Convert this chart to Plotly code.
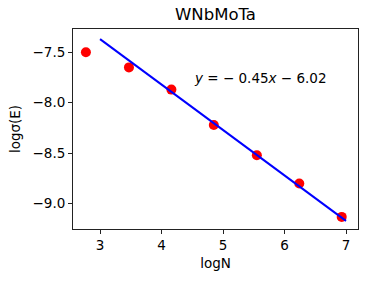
import plotly.graph_objects as go

log_n = [2.77, 3.47, 4.16, 4.85, 5.55, 6.24, 6.93]
log_sigma = [-7.50, -7.65, -7.87, -8.22, -8.52, -8.80, -9.13]
slope = -0.45
intercept = -6.02
fit_x = [3.0, 7.0]
fit_y = [slope * v + intercept for v in fit_x]

x_ticks = [3, 4, 5, 6, 7]
x_tick_labels = ["3", "4", "5", "6", "7"]
y_ticks = [-9.0, -8.5, -8.0, -7.5]
y_tick_labels = ["\u22129.0", "\u22128.5", "\u22128.0", "\u22127.5"]

font = "DejaVu Sans"

fig = go.Figure()
fig.add_trace(go.Scatter(x=log_n, y=log_sigma, mode="markers",
                         marker=dict(color="red", size=10, line=dict(width=0)),
                         showlegend=False))
fig.add_trace(go.Scatter(x=fit_x, y=fit_y, mode="lines",
                         line=dict(color="blue", width=2), showlegend=False))

fig.add_annotation(x=4.5, y=-7.76, xref="x", yref="y",
                   text="<i>y</i> = \u2212 0.45<i>x</i> \u2212 6.02",
                   showarrow=False, xanchor="left", yanchor="middle",
                   font=dict(family=font, size=13.5, color="black"))

axis_common = dict(showgrid=False, zeroline=False, showline=True, linecolor="#222",
                   linewidth=1, mirror=True, ticks="outside", ticklen=4, tickwidth=1,
                   tickcolor="#222", automargin=False,
                   tickfont=dict(family=font, size=13.5, color="black"))

fig.update_xaxes(range=[2.56, 7.195], tickvals=x_ticks, ticktext=x_tick_labels,
                 title=dict(text="logN", font=dict(family=font, size=13.5, color="black"), standoff=6),
                 **axis_common)
fig.update_yaxes(range=[-9.25, -7.27], tickvals=y_ticks, ticktext=y_tick_labels,
                 title=dict(text="log\u03c3(E)", font=dict(family=font, size=13.5, color="black"), standoff=8),
                 **axis_common)

fig.update_layout(width=373, height=282, margin=dict(l=73, r=15, t=29, b=53),
                  paper_bgcolor="white", plot_bgcolor="white",
                  title=dict(text="WNbMoTa", x=(73 + 358) / 2 / 373, xanchor="center",
                             y=1 - 14 / 282, yanchor="middle",
                             font=dict(family=font, size=16.5, color="black")))

fig.write_html("out.html", config={"displayModeBar": False},
               post_script="document.body.style.margin='0';")
